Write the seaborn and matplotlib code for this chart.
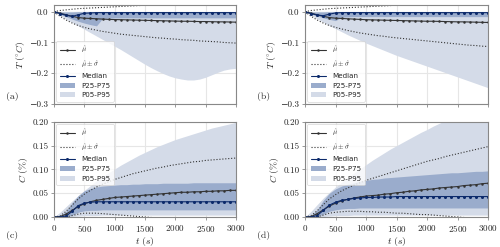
import numpy as np
import pandas as pd
import seaborn as sns
import matplotlib
matplotlib.use("Agg")
import matplotlib.pyplot as plt
from matplotlib.patches import Patch
from matplotlib.lines import Line2D

# time axis (s), every 100 s
t = list(range(0, 3001, 100))

# ---------------- panel (a): temperature
mean_a = [0, -0.005, -0.010, -0.015, -0.019, -0.021, -0.022, -0.023, -0.024, -0.025, -0.0255,
          -0.026, -0.0265, -0.027, -0.0275, -0.028, -0.0285, -0.029, -0.0295, -0.030, -0.0305,
          -0.031, -0.031, -0.0315, -0.032, -0.032, -0.0325, -0.033, -0.033, -0.0335, -0.034]
up_a = [0, 0.004, 0.006, 0.008, 0.010, 0.011, 0.012, 0.013, 0.014, 0.015, 0.016, 0.017, 0.018,
        0.019, 0.020, 0.021, 0.022, 0.023, 0.023, 0.024, 0.024, 0.025, 0.025, 0.026, 0.026,
        0.026, 0.027, 0.027, 0.027, 0.028, 0.028]
lo_a = [0, -0.015, -0.027, -0.037, -0.045, -0.051, -0.056, -0.060, -0.064, -0.067, -0.070,
        -0.073, -0.075, -0.077, -0.079, -0.081, -0.083, -0.085, -0.086, -0.088, -0.089, -0.091,
        -0.092, -0.093, -0.095, -0.096, -0.097, -0.098, -0.100, -0.101, -0.102]
med_a = [0, -0.006, -0.012, -0.015, -0.010, -0.005, -0.004, -0.003, -0.003, -0.003, -0.003,
         -0.003, -0.003, -0.003, -0.003, -0.003, -0.003, -0.003, -0.003, -0.003, -0.003,
         -0.003, -0.003, -0.003, -0.003, -0.003, -0.003, -0.003, -0.003, -0.003, -0.003]
p75_a = [0, -0.001, -0.001, -0.001, 0, 0, 0, 0, 0, 0, 0, 0, 0, 0, 0, 0, 0, 0, 0, 0, 0,
         0, 0, 0, 0, 0, 0, 0, 0, 0, 0]
p25_a = [0, -0.008, -0.016, -0.024, -0.031, -0.037, -0.042, -0.046, -0.022, -0.021, -0.020,
         -0.020, -0.020, -0.020, -0.020, -0.020, -0.020, -0.020, -0.020, -0.020, -0.020,
         -0.020, -0.020, -0.020, -0.020, -0.020, -0.020, -0.020, -0.020, -0.020, -0.020]
p95_a = [0, 0.001, 0.001, 0.001, 0.001, 0.001, 0.001, 0.001, 0.001, 0.001, 0.001, 0.001, 0.001,
         0.001, 0.001, 0.001, 0.001, 0.001, 0.001, 0.001, 0.001, 0.001, 0.001, 0.001, 0.001,
         0.001, 0.001, 0.001, 0.001, 0.001, 0.001]
p05_a = [0, -0.012, -0.024, -0.035, -0.046, -0.057, -0.068, -0.079, -0.090, -0.101, -0.112,
         -0.123, -0.135, -0.147, -0.159, -0.171, -0.182, -0.192, -0.201, -0.209, -0.215,
         -0.219, -0.222, -0.222, -0.219, -0.213, -0.205, -0.197, -0.190, -0.186, -0.184]

# ---------------- panel (b): temperature
mean_b = [0, -0.005, -0.010, -0.015, -0.019, -0.021, -0.022, -0.023, -0.024, -0.025, -0.026,
          -0.0265, -0.027, -0.0275, -0.028, -0.0285, -0.029, -0.0295, -0.030, -0.0305, -0.031,
          -0.031, -0.0315, -0.032, -0.0325, -0.033, -0.033, -0.0335, -0.034, -0.0345, -0.035]
up_b = [0, 0.004, 0.006, 0.008, 0.010, 0.011, 0.012, 0.013, 0.014, 0.015, 0.016, 0.017, 0.018,
        0.019, 0.020, 0.022, 0.023, 0.023, 0.024, 0.024, 0.025, 0.025, 0.026, 0.026, 0.026,
        0.027, 0.027, 0.027, 0.028, 0.028, 0.028]
lo_b = [0, -0.015, -0.027, -0.037, -0.045, -0.051, -0.056, -0.061, -0.065, -0.069, -0.072,
        -0.075, -0.078, -0.080, -0.083, -0.085, -0.087, -0.089, -0.091, -0.093, -0.095,
        -0.097, -0.099, -0.101, -0.103, -0.105, -0.107, -0.109, -0.110, -0.112, -0.113]
med_b = [0, -0.006, -0.011, -0.013, -0.008, -0.004, -0.003, -0.003, -0.003, -0.003, -0.003,
         -0.003, -0.003, -0.003, -0.003, -0.003, -0.003, -0.003, -0.003, -0.003, -0.003,
         -0.003, -0.003, -0.003, -0.003, -0.003, -0.003, -0.003, -0.003, -0.003, -0.003]
p75_b = [0, -0.001, -0.001, -0.001, 0, 0, 0, 0, 0, 0, 0, 0, 0, 0, 0, 0, 0, 0, 0, 0, 0,
         0, 0, 0, 0, 0, 0, 0, 0, 0, 0]
p25_b = [0, -0.007, -0.014, -0.020, -0.025, -0.029, -0.018, -0.017, -0.016, -0.016, -0.016,
         -0.016, -0.016, -0.016, -0.016, -0.016, -0.016, -0.016, -0.016, -0.016, -0.016,
         -0.016, -0.016, -0.016, -0.016, -0.016, -0.016, -0.016, -0.016, -0.016, -0.016]
p95_b = p95_a
p05_b = [0, -0.012, -0.023, -0.034, -0.045, -0.055, -0.065, -0.075, -0.084, -0.093, -0.102,
         -0.110, -0.118, -0.126, -0.134, -0.142, -0.149, -0.156, -0.163, -0.170, -0.177,
         -0.184, -0.191, -0.198, -0.205, -0.212, -0.219, -0.226, -0.233, -0.240, -0.247]

# ---------------- panel (c): concentration
mean_c = [0, 0.001, 0.006, 0.014, 0.022, 0.028, 0.032, 0.035, 0.037, 0.039, 0.041, 0.042,
          0.043, 0.044, 0.045, 0.046, 0.047, 0.048, 0.049, 0.050, 0.051, 0.052, 0.052, 0.053,
          0.053, 0.054, 0.054, 0.055, 0.055, 0.056, 0.056]
up_c = [0, 0.002, 0.012, 0.025, 0.038, 0.048, 0.056, 0.063, 0.069, 0.074, 0.079, 0.083, 0.087,
        0.091, 0.094, 0.097, 0.100, 0.103, 0.105, 0.108, 0.110, 0.112, 0.114, 0.116, 0.117,
        0.119, 0.120, 0.121, 0.122, 0.123, 0.124]
lo_c = [0, 0.000, 0.000, 0.003, 0.006, 0.008, 0.008, 0.008, 0.007, 0.006, 0.005, 0.004, 0.003,
        0.002, 0.001, 0.000, -0.001, -0.002, -0.003, -0.004, -0.005, -0.006, -0.007, -0.008,
        -0.009, -0.010, -0.011, -0.012, -0.013, -0.014, -0.015]
med_c = [0, 0.000, 0.002, 0.012, 0.024, 0.029, 0.031, 0.032, 0.032, 0.032, 0.032, 0.032, 0.032,
         0.032, 0.032, 0.032, 0.032, 0.032, 0.032, 0.032, 0.032, 0.032, 0.032, 0.032, 0.032,
         0.032, 0.032, 0.032, 0.032, 0.032, 0.032]
p75_c = [0, 0.002, 0.012, 0.030, 0.045, 0.055, 0.060, 0.063, 0.065, 0.066, 0.067, 0.068, 0.068,
         0.069, 0.069, 0.070, 0.070, 0.070, 0.071, 0.071, 0.071, 0.071, 0.071, 0.072, 0.072,
         0.072, 0.072, 0.072, 0.072, 0.072, 0.072]
p25_c = [0, 0.000, 0.000, 0.004, 0.010, 0.013, 0.014, 0.014, 0.015, 0.015, 0.015, 0.015, 0.015,
         0.015, 0.015, 0.015, 0.015, 0.015, 0.015, 0.015, 0.015, 0.015, 0.015, 0.015, 0.015,
         0.015, 0.015, 0.015, 0.015, 0.015, 0.015]
p95_c = [0, 0.010, 0.022, 0.034, 0.045, 0.056, 0.066, 0.076, 0.085, 0.093, 0.101, 0.109, 0.116,
         0.123, 0.130, 0.136, 0.142, 0.148, 0.153, 0.158, 0.163, 0.167, 0.171, 0.175, 0.179,
         0.183, 0.187, 0.190, 0.193, 0.196, 0.199]
p05_c = [0, 0.000, 0.000, 0.001, 0.002, 0.003, 0.003, 0.003, 0.004, 0.004, 0.004, 0.004, 0.004,
         0.004, 0.004, 0.004, 0.004, 0.004, 0.004, 0.004, 0.004, 0.004, 0.004, 0.004, 0.004,
         0.004, 0.004, 0.004, 0.004, 0.004, 0.004]

# ---------------- panel (d): concentration
mean_d = [0, 0.001, 0.007, 0.015, 0.023, 0.029, 0.034, 0.037, 0.040, 0.042, 0.044, 0.045,
          0.046, 0.048, 0.049, 0.051, 0.052, 0.054, 0.055, 0.057, 0.058, 0.059, 0.061, 0.062,
          0.063, 0.064, 0.066, 0.067, 0.068, 0.070, 0.071]
up_d = [0, 0.003, 0.013, 0.026, 0.038, 0.047, 0.055, 0.061, 0.067, 0.072, 0.077, 0.081, 0.085,
        0.089, 0.093, 0.097, 0.101, 0.105, 0.109, 0.113, 0.117, 0.120, 0.123, 0.127, 0.130,
        0.133, 0.136, 0.139, 0.142, 0.145, 0.148]
lo_d = [0, 0.000, 0.000, 0.004, 0.008, 0.010, 0.011, 0.012, 0.012, 0.012, 0.011, 0.011, 0.010,
        0.010, 0.009, 0.008, 0.008, 0.007, 0.006, 0.005, 0.005, 0.004, 0.003, 0.002, 0.001,
        0.000, -0.001, -0.002, -0.003, -0.004, -0.005]
med_d = [0, 0.000, 0.003, 0.014, 0.025, 0.031, 0.035, 0.037, 0.039, 0.040, 0.041, 0.041, 0.042,
         0.042, 0.042, 0.043, 0.043, 0.043, 0.043, 0.043, 0.043, 0.043, 0.043, 0.043, 0.043,
         0.043, 0.043, 0.043, 0.043, 0.043, 0.043]
p75_d = [0, 0.003, 0.015, 0.035, 0.050, 0.059, 0.065, 0.069, 0.072, 0.075, 0.077, 0.079, 0.080,
         0.082, 0.083, 0.084, 0.085, 0.086, 0.087, 0.088, 0.089, 0.090, 0.091, 0.092, 0.093,
         0.093, 0.094, 0.095, 0.096, 0.096, 0.097]
p25_d = [0, 0.000, 0.001, 0.006, 0.012, 0.015, 0.017, 0.018, 0.018, 0.019, 0.019, 0.019, 0.019,
         0.019, 0.019, 0.019, 0.019, 0.019, 0.019, 0.019, 0.019, 0.019, 0.019, 0.019, 0.019,
         0.019, 0.019, 0.019, 0.019, 0.019, 0.019]
p95_d = [0, 0.012, 0.026, 0.040, 0.052, 0.063, 0.073, 0.083, 0.092, 0.101, 0.110, 0.119, 0.127,
         0.135, 0.143, 0.150, 0.157, 0.164, 0.171, 0.178, 0.184, 0.191, 0.197, 0.203, 0.209,
         0.214, 0.219, 0.224, 0.229, 0.234, 0.239]
p05_d = p05_c

panels = [
    ("(a)", mean_a, up_a, lo_a, med_a, p25_a, p75_a, p05_a, p95_a),
    ("(b)", mean_b, up_b, lo_b, med_b, p25_b, p75_b, p05_b, p95_b),
    ("(c)", mean_c, up_c, lo_c, med_c, p25_c, p75_c, p05_c, p95_c),
    ("(d)", mean_d, up_d, lo_d, med_d, p25_d, p75_d, p05_d, p95_d),
]

sns.set_style("whitegrid", {"grid.color": "#e6e6e6", "axes.edgecolor": "#888888",
                            "xtick.bottom": True, "ytick.left": True})
plt.rcParams["font.family"] = ["cmr10", "DejaVu Serif"]
plt.rcParams["mathtext.fontset"] = "cm"
plt.rcParams["axes.formatter.use_mathtext"] = True
plt.rcParams["font.size"] = 7

light = "#d4dbe8"
dark = "#9aaccc"
navy = "#0c2a6b"
grey = "#333333"

fig = plt.figure(figsize=(5.0, 2.47), dpi=100)
rects = [[0.108, 0.579, 0.364, 0.401], [0.610, 0.579, 0.366, 0.401],
         [0.108, 0.1215, 0.364, 0.385], [0.610, 0.1215, 0.366, 0.385]]
labpos = [(0.012, 0.60), (0.515, 0.60), (0.012, 0.035), (0.515, 0.035)]

for i, (lab, mean, up, lo, med, p25, p75, p05, p95) in enumerate(panels):
    ax = fig.add_axes(rects[i])
    ax.fill_between(t, p05, p95, color=light, lw=0)
    ax.fill_between(t, p25, p75, color=dark, lw=0)
    sns.lineplot(x=t, y=mean, ax=ax, color=grey, lw=0.8, marker="o", markersize=1.8,
                 markeredgewidth=0)
    sns.lineplot(x=t, y=up, ax=ax, color=grey, lw=0.8, linestyle=":")
    sns.lineplot(x=t, y=lo, ax=ax, color=grey, lw=0.8, linestyle=":")
    sns.lineplot(x=t, y=med, ax=ax, color=navy, lw=0.8, marker="o", markersize=2.2,
                 markeredgewidth=0)
    ax.set_xlim(0, 3000)
    ax.set_xticks(range(0, 3001, 500))
    ax.tick_params(length=2.5, width=0.6, pad=1.5, labelsize=6.5, color="#888888")
    for s in ax.spines.values():
        s.set_linewidth(0.8)
    if i < 2:
        ax.set_ylim(-0.3, 0.022)
        ax.set_yticks([0.0, -0.1, -0.2, -0.3])
        ax.set_yticklabels(["0.0", "\u22120.1", "\u22120.2", "\u22120.3"])
        ax.set_xticklabels([])
        ax.set_ylabel(r"$T\ (^{\circ}C)$", fontsize=7, labelpad=2)
        loc = "lower left"
    else:
        ax.set_ylim(0, 0.2)
        ax.set_yticks([0.0, 0.05, 0.10, 0.15, 0.20])
        ax.set_yticklabels(["0.00", "0.05", "0.10", "0.15", "0.20"])
        ax.set_xlabel(r"$t\ (s)$", fontsize=7, labelpad=1)
        ax.set_ylabel(r"$C\ (\%)$", fontsize=7, labelpad=2)
        loc = "upper left"
    handles = [
        Line2D([], [], color=grey, lw=0.8, marker="o", markersize=1.8, markeredgewidth=0),
        Line2D([], [], color=grey, lw=0.8, linestyle=":"),
        Line2D([], [], color=navy, lw=0.8, marker="o", markersize=2.2, markeredgewidth=0),
        Patch(facecolor=dark, edgecolor="none"),
        Patch(facecolor=light, edgecolor="none"),
    ]
    labels = [r"$\hat{\mu}$", r"$\hat{\mu}\pm\hat{\sigma}$", "Median", "P25-P75", "P05-P95"]
    leg = ax.legend(handles, labels, loc=loc, prop={"family": "DejaVu Sans", "size": 5.1},
                    frameon=True, framealpha=0.8, borderpad=0.5, labelspacing=0.5,
                    handlelength=2.2, handletextpad=0.8, borderaxespad=0.3)
    leg.get_frame().set_linewidth(0.5)
    fig.text(labpos[i][0], labpos[i][1], lab, fontsize=7)

fig.savefig("out.png", dpi=100)
